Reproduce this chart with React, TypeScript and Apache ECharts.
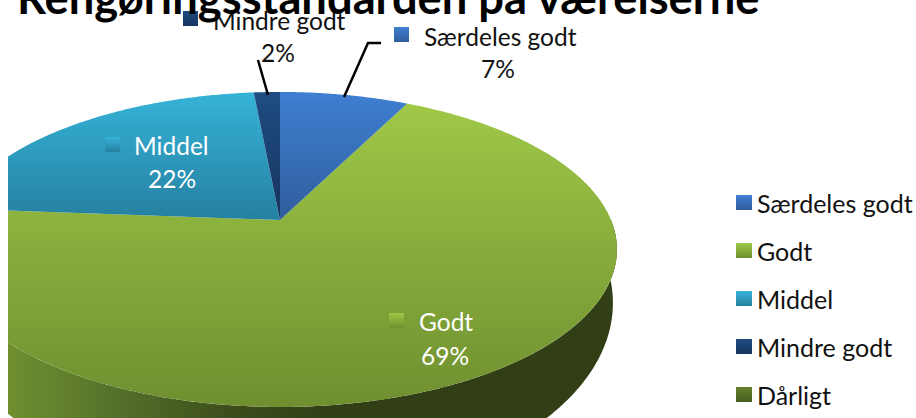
import React, { useEffect, useRef } from "react";
import * as echarts from "echarts";

const titleText = "Rengøringsstandarden på værelserne";
const categories = ["Særdeles godt", "Godt", "Middel", "Mindre godt", "Dårligt"];
const shares = [7.4, 68.8, 22.3, 1.5, 0];

const topColors = ["#3f7fd2", "#9fc847", "#36b3d8", "#1f4c82", "#66802c"];
const bottomColors = ["#2f5d9c", "#6f8f30", "#2580a0", "#16345f", "#465c1c"];

const FONT = "Lato";
const OX = 8; // the chart div starts 8px from the page's left edge
const cx = 280 - OX;
const cy = 220;
const A = 331;
const B = 152;
const K = 0.187;

// perspective projection of the pie's circle: apex is off the ellipse's centre
const project = (deg: number): number[] => {
  const t = (deg * Math.PI) / 180;
  const d = 1 + K * Math.cos(t);
  return [cx + (A * Math.sin(t)) / d, cy - (B * Math.cos(t)) / d];
};

const arc = (from: number, to: number): number[][] => {
  const pts: number[][] = [];
  const n = Math.max(2, Math.ceil((to - from) * 2));
  for (let i = 0; i <= n; i++) pts.push(project(from + ((to - from) * i) / n));
  return pts;
};

// the pie's lower rim, seen through the same perspective
const lowerRim = (p: number[]): number[] => [
  cx + (p[0] - cx) * 0.988,
  303 + (p[1] - 249.5) * 1.22,
];

const total = shares.reduce((a, b) => a + b, 0);
const startDeg = (i: number) => (shares.slice(0, i).reduce((a, b) => a + b, 0) / total) * 360;

const gradient = (i: number) =>
  new echarts.graphic.LinearGradient(0, 0, 0, 1, [
    { offset: 0, color: topColors[i] },
    { offset: 1, color: bottomColors[i] },
  ]);

// label placement: key square, name, percentage
const labelLayouts = [
  { sq: [394, 27], nameX: 424, nameY: 36, pctX: 498, pctY: 68, color: "#111111" },
  { sq: [389, 313], nameX: 419, nameY: 321, pctX: 445, pctY: 355, color: "#ffffff" },
  { sq: [105, 137], nameX: 134, nameY: 145, pctX: 172, pctY: 178, color: "#ffffff" },
  { sq: [183, 11], nameX: 213, nameY: 20, pctX: 278, pctY: 52, color: "#111111" },
];
const leaderLines = [
  [[344, 97], [368, 43], [381, 43]],
  [],
  [],
  [[258, 60], [268, 95]],
];

const renderSlice = (i: number) => () => {
  const from = startDeg(i);
  const to = from + (shares[i] / total) * 360;
  const children: any[] = [];
  if (shares[i] <= 0) return { type: "group", children };

  if (i === 1) {
    const top = arc(90, to);
    const low = top.map(lowerRim).reverse();
    children.push({
      type: "polygon",
      shape: { points: [...top, ...low] },
      style: {
        fill: new echarts.graphic.LinearGradient(
          0, 0, 320, 0,
          [
            { offset: 0, color: "#708f30" },
            { offset: 0.35, color: "#55702a" },
            { offset: 0.7, color: "#3c4d1b" },
            { offset: 1, color: "#323f16" },
          ],
          true,
        ),
      },
    });
  }

  children.push({
    type: "polygon",
    shape: { points: [[cx, cy], ...arc(from, to)] },
    style: { fill: gradient(i) },
  });

  const l = labelLayouts[i];
  children.push({
    type: "rect",
    shape: { x: l.sq[0] - OX, y: l.sq[1], width: 15, height: 15 },
    style: { fill: gradient(i) },
  });
  children.push({
    type: "text",
    style: {
      x: l.nameX - OX,
      y: l.nameY,
      text: categories[i],
      fill: l.color,
      font: `24.5px ${FONT}`,
      textAlign: "left",
      textVerticalAlign: "middle",
    },
  });
  children.push({
    type: "text",
    style: {
      x: l.pctX - OX,
      y: l.pctY,
      text: `${Math.round((shares[i] / total) * 100)}%`,
      fill: l.color,
      font: `24.5px ${FONT}`,
      textAlign: "center",
      textVerticalAlign: "middle",
    },
  });
  if (leaderLines[i].length) {
    children.push({
      type: "polyline",
      shape: { points: leaderLines[i].map((p) => [p[0] - OX, p[1]]) },
      style: { stroke: "#000000", lineWidth: 2.5, fill: "none" },
    });
  }
  return { type: "group", children };
};

export default function App() {
  const ref = useRef<HTMLDivElement>(null);
  useEffect(() => {
    const chart = echarts.init(ref.current!, undefined, { renderer: "svg" });
    chart.setOption({
      animation: false,
      backgroundColor: "#ffffff",
      title: {
        text: titleText,
        left: 4,
        top: -31,
        textStyle: { fontFamily: FONT, fontWeight: "bold", fontSize: 45.3, color: "#000000" },
      },
      legend: {
        orient: "vertical",
        left: 723,
        top: 185,
        itemWidth: 16,
        itemHeight: 15,
        itemGap: 23,
        icon: "rect",
        selectedMode: false,
        data: categories,
        textStyle: { fontFamily: FONT, fontSize: 25, lineHeight: 25, color: "#111111" },
      },
      series: categories.map((name, i) => ({
        type: "custom",
        name,
        coordinateSystem: "none",
        silent: true,
        clip: false,
        itemStyle: { color: gradient(i) },
        data: [[shares[i]]],
        renderItem: renderSlice(i),
        z: i === 1 ? 2 : 3,
      })),
    });
    return () => chart.dispose();
  }, []);
  return (
    <div
      ref={ref}
      style={{ position: "absolute", left: OX, top: 0, width: 908, height: 418 }}
    />
  );
}
